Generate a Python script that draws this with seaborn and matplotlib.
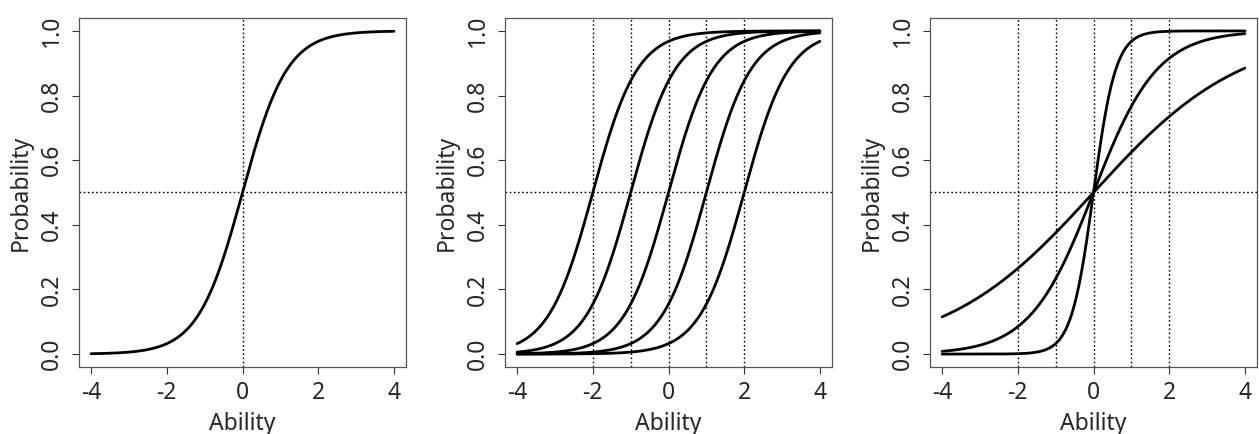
import numpy as np
import pandas as pd
import matplotlib
matplotlib.use("Agg")
import matplotlib.pyplot as plt
import seaborn as sns

# ---- data (item parameters; 2PL logistic, D = 1.7) ----
D = 1.7
panel1_difficulty = [0.0]
panel1_discrimination = [1.0]
panel2_difficulty = [-2.0, -1.0, 0.0, 1.0, 2.0]
panel2_discrimination = [1.0, 1.0, 1.0, 1.0, 1.0]
panel3_difficulty = [0.0, 0.0, 0.0]
panel3_discrimination = [0.3, 0.7, 2.0]
panel1_vlines = [0]
panel2_vlines = [-2, -1, 0, 1, 2]
panel3_vlines = [-2, -1, 0, 1, 2]
hline_value = 0.5
x_ticks = [-4, -2, 0, 2, 4]
y_ticks = [0.0, 0.2, 0.4, 0.6, 0.8, 1.0]
y_ticklabels = ["0.0", "0.2", "0.4", "0.6", "0.8", "1.0"]
x_label = "Ability"
y_label = "Probability"
theta = np.linspace(-4, 4, 401)


def icc_frame(bs, as_):
    rows = []
    for i, (b, a) in enumerate(zip(bs, as_)):
        p = 1.0 / (1.0 + np.exp(-D * a * (theta - b)))
        rows.append(pd.DataFrame({"Ability": theta, "Probability": p, "item": i}))
    return pd.concat(rows, ignore_index=True)


sns.set_style("white")
plt.rcParams["font.family"] = ["Noto Sans", "DejaVu Sans"]

W, H = 1259, 434
fig = plt.figure(figsize=(W / 100, H / 100), dpi=100)

lefts = [79, 505, 930]
ax_w = 327
ax_top, ax_bot = 18, 367

panels = [
    (panel1_difficulty, panel1_discrimination, panel1_vlines),
    (panel2_difficulty, panel2_discrimination, panel2_vlines),
    (panel3_difficulty, panel3_discrimination, panel3_vlines),
]

FS = 16.5
for left, (bs, as_, vls) in zip(lefts, panels):
    ax = fig.add_axes([left / W, 1 - ax_bot / H, ax_w / W, (ax_bot - ax_top) / H])
    df = icc_frame(bs, as_)
    sns.lineplot(data=df, x="Ability", y="Probability", units="item",
                 estimator=None, color="black", linewidth=2.0, ax=ax,
                 legend=False, zorder=3)
    for v in vls:
        ax.axvline(v, color="black", linestyle=(0, (1.2, 1.8)), linewidth=1.0, zorder=2)
    ax.axhline(hline_value, color="black", linestyle=(0, (1.2, 1.8)), linewidth=1.0, zorder=2)

    ax.set_xlim(-4.32, 4.32)
    ax.set_ylim(-0.04, 1.04)
    ax.set_xticks(x_ticks)
    ax.set_xticklabels([str(t) for t in x_ticks])
    ax.set_yticks(y_ticks)
    ax.set_yticklabels(y_ticklabels, rotation=90, va="center")
    ax.tick_params(axis="both", direction="out", length=5, width=0.8,
                   color="#333333", labelsize=FS, bottom=True, left=True)
    ax.tick_params(axis="x", pad=5)
    ax.tick_params(axis="y", pad=6)
    for s in ax.spines.values():
        s.set_visible(True)
        s.set_color("#555555")
        s.set_linewidth(0.9)
    ax.set_xlabel(x_label, fontsize=FS, labelpad=5)
    ax.set_ylabel(y_label, fontsize=FS, labelpad=5)

fig.savefig("out.png", dpi=100, facecolor="white")
